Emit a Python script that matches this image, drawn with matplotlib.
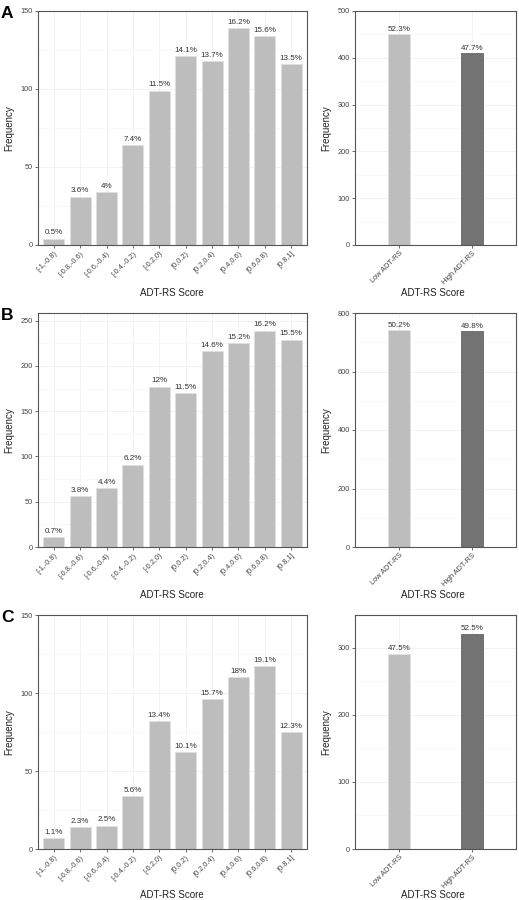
import matplotlib
matplotlib.use("Agg")
import matplotlib.pyplot as plt
import numpy as np

plt.rcParams['font.family'] = ['Liberation Sans', 'DejaVu Sans']

bins = ["[-1,-0.8)", "[-0.8,-0.6)", "[-0.6,-0.4)", "[-0.4,-0.2)", "[-0.2,0)",
        "[0,0.2)", "[0.2,0.4)", "[0.4,0.6)", "[0.6,0.8)", "[0.8,1]"]
groups = ["Low ADT-RS", "High ADT-RS"]

# panel A
counts_a = [4, 31, 34, 64, 99, 121, 118, 139, 134, 116]
pct_a = ["0.5%", "3.6%", "4%", "7.4%", "11.5%", "14.1%", "13.7%", "16.2%", "15.6%", "13.5%"]
grp_a = [450, 410]
grp_pct_a = ["52.3%", "47.7%"]

# panel B
counts_b = [11, 56, 65, 91, 177, 170, 216, 225, 239, 229]
pct_b = ["0.7%", "3.8%", "4.4%", "6.2%", "12%", "11.5%", "14.6%", "15.2%", "16.2%", "15.5%"]
grp_b = [742, 737]
grp_pct_b = ["50.2%", "49.8%"]

# panel C
counts_c = [7, 14, 15, 34, 82, 62, 96, 110, 117, 75]
pct_c = ["1.1%", "2.3%", "2.5%", "5.6%", "13.4%", "10.1%", "15.7%", "18%", "19.1%", "12.3%"]
grp_c = [291, 321]
grp_pct_c = ["47.5%", "52.5%"]

panels = [
    ("A", counts_a, pct_a, grp_a, grp_pct_a, 150, [0, 50, 100, 150], 500, [0, 100, 200, 300, 400, 500], 11),
    ("B", counts_b, pct_b, grp_b, grp_pct_b, 258.5, [0, 50, 100, 150, 200, 250], 800, [0, 200, 400, 600, 800], 313),
    ("C", counts_c, pct_c, grp_c, grp_pct_c, 150, [0, 50, 100, 150], 349, [0, 100, 200, 300], 615),
]

W, H = 519, 900
fig = plt.figure(figsize=(W / 100, H / 100), dpi=100)

light = "#bdbdbd"
dark = "#737373"
border = "#555555"


def style(ax, yticks, ymax, xlim):
    ax.set_ylim(0, ymax)
    ax.set_xlim(*xlim)
    ax.set_yticks(yticks)
    minor = [(a + b) / 2 for a, b in zip(yticks[:-1], yticks[1:])]
    ax.set_yticks(minor, minor=True)
    ax.grid(True, which="major", color="#eeeeee", lw=0.5)
    ax.grid(True, which="minor", axis="y", color="#f5f5f5", lw=0.4)
    ax.set_axisbelow(True)
    for s in ax.spines.values():
        s.set_color(border)
        s.set_linewidth(0.8)
    ax.tick_params(axis="both", which="major", length=2, width=0.5, color="#333333",
                   labelsize=5.3, labelcolor="#444444", pad=1.5)
    ax.tick_params(which="minor", length=0)
    ax.set_ylabel("Frequency", fontsize=7, color="#222222", labelpad=5)


for letter, counts, pct, grp, grp_pct, ymax_l, yt_l, ymax_r, yt_r, top in panels:
    h = 234
    # left histogram
    axl = fig.add_axes([38 / W, 1 - (top + h) / H, 269 / W, h / H])
    x = np.arange(1, len(bins) + 1)
    axl.bar(x, counts, width=0.8, color=light, edgecolor="#e0e0e0", linewidth=0.5, zorder=2)
    for xi, c, p in zip(x, counts, pct):
        axl.text(xi, c + ymax_l * 0.01, p, ha="center", va="bottom", fontsize=5.8, color="#333333")
    style(axl, yt_l, ymax_l, (0.4, 10.6))
    axl.set_xticks(x)
    axl.set_xticklabels(bins, rotation=45, ha="right", rotation_mode="anchor")

    # right group bars
    axr = fig.add_axes([355 / W, 1 - (top + h) / H, 161 / W, h / H])
    xr = np.arange(1, 3)
    axr.bar(xr, grp, width=0.3, color=[light, dark], edgecolor=["#e0e0e0", "#555555"], linewidth=0.5, zorder=2)
    for xi, c, p in zip(xr, grp, grp_pct):
        axr.text(xi, c + ymax_r * 0.006, p, ha="center", va="bottom", fontsize=5.8, color="#333333")
    style(axr, yt_r, ymax_r, (0.4, 2.6))
    axr.set_xticks(xr)
    axr.set_xticklabels(groups, rotation=45, ha="right", rotation_mode="anchor")

    # x titles
    ly = min(top + 285, 898.5)
    fig.text(172 / W, 1 - ly / H, "ADT-RS Score", fontsize=7, color="#222222", ha="center", va="baseline")
    fig.text(433 / W, 1 - ly / H, "ADT-RS Score", fontsize=7, color="#222222", ha="center", va="baseline")

    fig.text(1 / W, 1 - (top + 3) / H, letter, fontsize=12.5, fontweight="bold", va="center", ha="left")

fig.savefig("out.png", dpi=100)
